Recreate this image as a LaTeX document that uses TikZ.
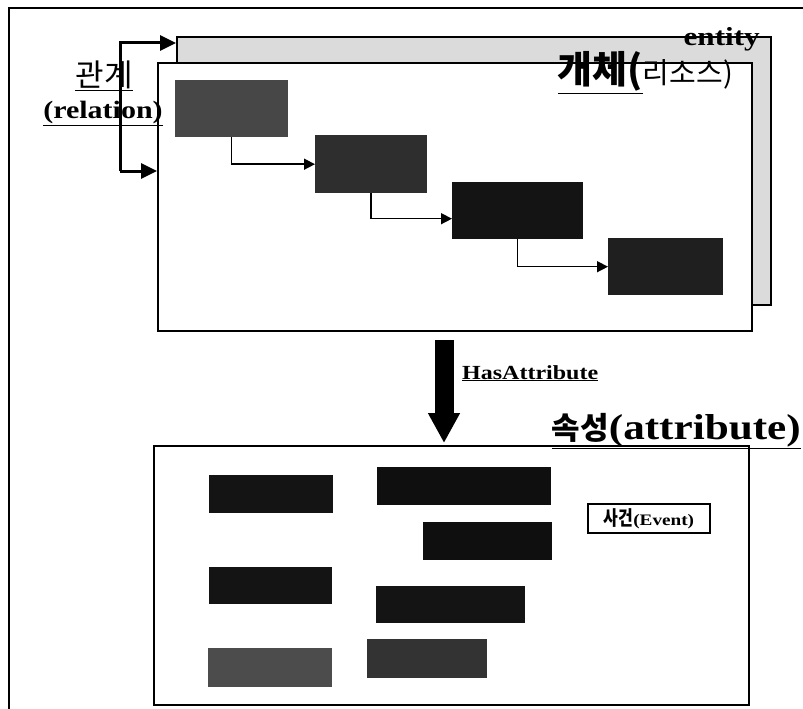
\documentclass[tikz,border=0pt]{standalone}
\usepackage{fontspec}
\setmainfont{Liberation Serif}[FakeStretch=1.2]
\newfontfamily\kr{Noto Sans CJK KR}
\usetikzlibrary{arrows.meta}
\tikzset{
  frame/.style={line width=2pt},
  panel/.style={draw, line width=2pt, inner sep=0pt, anchor=north west},
  dbox/.style={fill=#1, inner sep=0pt, anchor=north west},
  lbl/.style={inner sep=0pt},
  rel/.style={line width=3pt, -{Triangle[length=16pt,width=15pt]}},
  flow/.style={line width=1.5pt, -{Triangle[length=11pt,width=11pt]}},
  bigarr/.style={line width=19pt, -{Triangle[length=30pt,width=30pt]}},
  evbox/.style={draw, line width=1.2pt, fill=white, minimum width=122pt, minimum height=29pt, inner sep=0pt}
}
\begin{document}
\begin{tikzpicture}[x=1pt,y=-1pt]
\useasboundingbox (0,0) rectangle (803,709);
% outer frame
\draw[frame] (9,709) -- (9,8) -- (803,8);
% entity panels
\node[panel, fill=black!14, minimum width=594pt, minimum height=268pt] (back) at (176,36) {};
\node[panel, fill=white, minimum width=594pt, minimum height=268pt] (front) at (157,62) {};
% titles
\node[lbl, anchor=base east, font=\bfseries\fontsize{26}{26}\selectfont] (entl) at (760,46) {entity};
\node[lbl, anchor=base east] (gae) at (733,84) {\kr\bfseries\fontsize{38}{38}\selectfont\underline{개체(}\mdseries\fontsize{29}{29}\selectfont 리소스)};
\node[lbl, anchor=base] (kw) at (104,86) {\kr\fontsize{31}{31}\selectfont\underline{관계}};
\node[lbl, anchor=base] (kwe) at (103,118) {\bfseries\fontsize{25}{25}\selectfont\underline{(relation)}};
% process boxes
\node[dbox=black!72, minimum width=113pt, minimum height=57pt] (b1) at (175,80) {};
\node[dbox=black!82, minimum width=112pt, minimum height=58pt] (b2) at (315,135) {};
\node[dbox=black!92, minimum width=131pt, minimum height=57pt] (b3) at (452,182) {};
\node[dbox=black!88, minimum width=115pt, minimum height=57pt] (b4) at (608,238) {};
\draw[flow] (b1.south) |- (b2.west);
\draw[flow] (b2.south) |- ([yshift=-8pt]b3.west);
\draw[flow] (b3.south) |- (b4.west);
% relation connectors
\coordinate (trunk) at (120,171);
\draw[rel] (trunk) |- ([yshift=-7pt]back.north west);
\draw[rel] (trunk) -- (front.west |- trunk);
% attribute panel
\node[panel, fill=white, minimum width=595pt, minimum height=259pt] (attr) at (153,445) {};
\node[lbl, anchor=base east] (attl) at (801,439) {\bfseries\underline{{\kr\fontsize{31}{31}\selectfont 속성}\fontsize{36}{36}\selectfont(attribute)}};
% HasAttribute arrow
\coordinate (ax) at (444,0);
\draw[bigarr, shorten <=8pt, shorten >=2pt] (front.south -| ax) -- (attr.north -| ax);
\node[lbl, anchor=base west, font=\bfseries\fontsize{20}{20}\selectfont] (has) at (462,379) {\underline{HasAttribute}};
% attribute boxes
\node[dbox=black!92, minimum width=124pt, minimum height=38pt] (pa) at (209,475) {};
\node[dbox=black!94, minimum width=174pt, minimum height=38pt] (pb) at (377,467) {};
\node[dbox=black!94, minimum width=129pt, minimum height=38pt] (pc) at (423,522) {};
\node[dbox=black!92, minimum width=123pt, minimum height=37pt] (pd) at (209,567) {};
\node[dbox=black!92, minimum width=149pt, minimum height=37pt] (pe) at (376,586) {};
\node[dbox=black!70, minimum width=124pt, minimum height=39pt] (pf) at (208,648) {};
\node[dbox=black!80, minimum width=120pt, minimum height=39pt] (pg) at (367,639) {};
\node[evbox] (ev) at (649,518.5) {{\kr\bfseries\fontsize{20}{20}\selectfont\scalebox{0.8}[1]{사건}}{\bfseries\fontsize{16}{16}\selectfont(Event)}};
\end{tikzpicture}
\end{document}
